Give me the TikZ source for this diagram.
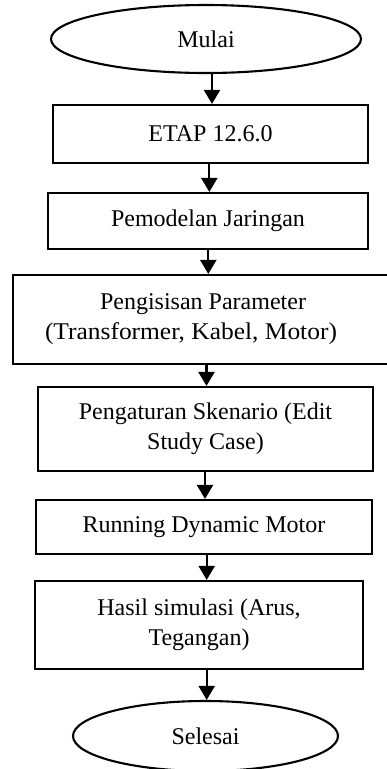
\documentclass[tikz,border=0pt]{standalone}
\usepackage{fontspec}
\setmainfont{Liberation Serif}
\usetikzlibrary{shapes.geometric,arrows.meta}
\begin{document}
\begin{tikzpicture}[x=1pt,y=-1pt,
  every node/.style={font=\fontsize{24}{30}\selectfont, inner sep=0pt, align=center},
  term/.style={draw, ellipse, line width=2.1pt},
  proc/.style={draw, rectangle, line width=2.1pt},
  arr/.style={line width=2.1pt, -{Triangle[length=14pt,width=16pt]}}]
\useasboundingbox (0,0) rectangle (387,769);
\node[term, minimum width=310, minimum height=68] (mulai) at (206,39) {Mulai};
\node[proc, minimum width=315, minimum height=58] (etap) at (210.5,134) {ETAP 12.6.0};
\node[proc, minimum width=320, minimum height=56] (pemodelan) at (208,221) {Pemodelan Jaringan};
\node[proc, minimum width=390, minimum height=89] (pengisisan) at (208,319.5)
  {Pengisisan Parameter\hspace*{10pt}\\\scalebox{1.06}[1]{(Transformer, Kabel, Motor)}\hspace*{34pt}};
\node[proc, minimum width=335, minimum height=84] (pengaturan) at (205.5,429) {Pengaturan Skenario (Edit\\Study Case)};
\node[proc, minimum width=336, minimum height=54] (running) at (204,527) {Running Dynamic Motor};
\node[proc, minimum width=328, minimum height=88] (hasil) at (199,625) {Hasil simulasi (Arus,\\Tegangan)};
\node[term, minimum width=265, minimum height=70] (selesai) at (205.5,736) {Selesai};
\coordinate (a1) at (212,0);
\coordinate (a2) at (209.3,0);
\coordinate (a3) at (208.3,0);
\coordinate (a4) at (206.5,0);
\coordinate (a5) at (205,0);
\coordinate (a6) at (206.7,0);
\coordinate (a7) at (206.7,0);
\draw[arr] (mulai.south -| a1) -- (etap.north -| a1);
\draw[arr] (etap.south -| a2) -- (pemodelan.north -| a2);
\draw[arr] (pemodelan.south -| a3) -- (pengisisan.north -| a3);
\draw[arr] (pengisisan.south -| a4) -- (pengaturan.north -| a4);
\draw[arr] (pengaturan.south -| a5) -- (running.north -| a5);
\draw[arr] (running.south -| a6) -- (hasil.north -| a6);
\draw[arr] (hasil.south -| a7) -- (selesai.north -| a7);
\end{tikzpicture}
\end{document}
